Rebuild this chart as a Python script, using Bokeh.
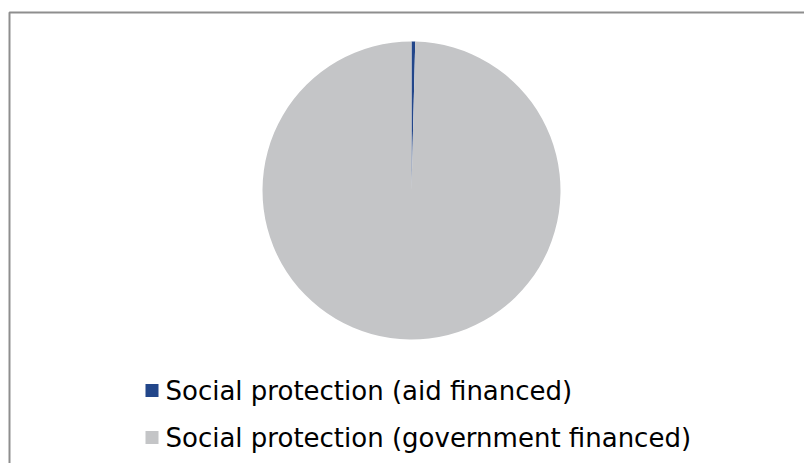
import numpy as np
from bokeh.plotting import figure
from bokeh.models import Range1d, ColumnDataSource
from bokeh.core.properties import value
from bokeh.embed import file_html
from bokeh.resources import INLINE

categories = ["Social protection (aid financed)", "Social protection (government financed)"]
shares = [0.4, 99.6]
colors = ["#22468A", "#C4C5C7"]

W, H = 804, 463
p = figure(width=W, height=H, output_backend="svg", toolbar_location=None,
           x_range=Range1d(0, W), y_range=Range1d(H, 0), min_border=0)
p.axis.visible = False
p.grid.visible = False
p.outline_line_color = None
p.background_fill_color = "white"
p.border_fill_color = "white"

# chart border (extends beyond the window on right/bottom)
p.line(x=[9, 9, W + 10], y=[H + 10, 12, 12], line_color="#8E8E8E", line_width=2)

vals = np.array(shares, dtype=float)
frac = vals / vals.sum() * 2 * np.pi
cum = np.cumsum(frac)
prev = np.concatenate([[0], cum[:-1]])
start = np.pi / 2 - prev
end = np.pi / 2 - cum
src = ColumnDataSource(dict(start=start, end=end, color=colors, cat=categories))
p.wedge(x=411, y=190, radius=149, start_angle="start", end_angle="end",
        direction="clock", fill_color="color", line_color=None, source=src)

ly = [390, 437]
lsrc = ColumnDataSource(dict(x=[151.5, 151.5], y=ly, tx=[165, 165], color=colors, cat=categories))
p.scatter(x="x", y="y", size=13, marker="square", fill_color="color", line_color=None, source=lsrc)
p.text(x="tx", y="y", text="cat", source=lsrc, text_font=value("DejaVu Sans"),
       text_font_size="26px", text_baseline="middle", text_color="#000000")

open("out.html", "w").write(file_html(p, INLINE))
